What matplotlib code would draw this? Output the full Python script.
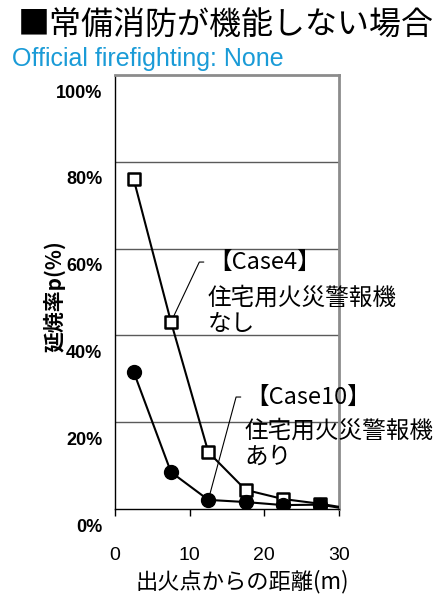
import matplotlib
matplotlib.use("Agg")
import matplotlib.pyplot as plt
from matplotlib.transforms import ScaledTranslation
from matplotlib.markers import MarkerStyle

JP = ['Noto Sans CJK JP', 'DejaVu Sans']
plt.rcParams['font.family'] = JP

# ---- data ----
distance = [2.5, 7.5, 12.5, 17.5, 22.5, 27.5, 30.0]
case4_none = [76.0, 43.1, 13.1, 4.4, 2.3, 1.2, 0.5]
case10_with = [31.6, 8.5, 2.1, 1.6, 0.9, 1.0, 0.3]
x_ticks = [0, 10, 20, 30]
y_ticks = [0, 20, 40, 60, 80, 100]
y_tick_labels = ['0%', '20%', '40%', '60%', '80%', '100%']

title = '■常備消防が機能しない場合'
subtitle = 'Official firefighting: None'
xlabel = '出火点からの距離(m)'
ylabel = '延焼率p(%)'
case4_head = '【Case4】'
case4_body = '住宅用火災警報機\nなし'
case10_head = '【Case10】'
case10_body = '住宅用火災警報機\nあり'

W, H = 448, 597
fig = plt.figure(figsize=(W / 100, H / 100), dpi=100)
ax = fig.add_axes([115 / W, 1 - 509 / H, 224 / W, 434 / H])

ax.set_xlim(0, 30)
ax.set_ylim(0, 100)

for y in y_ticks[1:-1]:
    ax.axhline(y, color='#5a5a5a', lw=1.0, zorder=1)

nmark = 6
sq = MarkerStyle('s', joinstyle='round')
ax.plot(distance, case4_none, color='black', lw=1.5, marker=sq, ms=9,
        mfc='white', mec='black', mew=1.8, markevery=slice(0, nmark), zorder=3)
ax.plot(distance, case10_with, color='black', lw=1.5, marker='o', ms=10,
        mfc='black', mec='black', markevery=slice(0, nmark), zorder=4)

# spines
for s in ['left', 'bottom']:
    ax.spines[s].set_color('black')
    ax.spines[s].set_linewidth(1.0)
for s in ['top', 'right']:
    ax.spines[s].set_color('#8c8c8c')
    ax.spines[s].set_linewidth(2.0)

ax.set_xticks(x_ticks)
ax.set_xticklabels([str(v) for v in x_ticks], fontsize=14, family=['Liberation Sans'])
ax.tick_params(axis='x', direction='out', length=5, width=1, pad=22)
ax.set_yticks(y_ticks)
ax.set_yticklabels(y_tick_labels, fontsize=13, fontweight='bold', family=['Liberation Sans'])
ax.tick_params(axis='y', length=0, pad=9)
off = ScaledTranslation(0, -0.16, fig.dpi_scale_trans)
for lab in ax.get_yticklabels():
    lab.set_transform(lab.get_transform() + off)

ax.set_xlabel(xlabel, fontsize=16)
ax.xaxis.set_label_coords(0.57, -0.14)
ax.set_ylabel(ylabel, fontsize=15, fontweight='bold')
ax.yaxis.set_label_coords(-0.222, 0.49)

# titles
fig.text(18 / W, 1 - 25 / H, title, fontsize=23, ha='left', va='center')
fig.text(12 / W, 1 - 59 / H, subtitle, fontsize=18, color='#1a9bd7',
         ha='left', va='center', family=['Liberation Sans'])

# annotations
ax.annotate(case4_head, xy=(distance[1], case4_none[1]), xytext=(12.45, 56.9),
            fontsize=17, ha='left', va='center',
            arrowprops=dict(arrowstyle='-', color='black', lw=0.8, relpos=(0, 0.5),
                            shrinkA=1, shrinkB=5,
                            connectionstyle='angle,angleA=0,angleB=64.7,rad=0'))
ax.text(12.45, 51.2, case4_body, fontsize=17, ha='left', va='top', linespacing=1.2)

ax.annotate(case10_head, xy=(distance[2], case10_with[2]), xytext=(17.4, 25.8),
            fontsize=17, ha='left', va='center',
            arrowprops=dict(arrowstyle='-', color='black', lw=0.8, relpos=(0, 0.5),
                            shrinkA=1, shrinkB=5,
                            connectionstyle='angle,angleA=0,angleB=74.9,rad=0'))
ax.text(17.4, 20.6, case10_body, fontsize=17, ha='left', va='top', linespacing=1.2)

fig.savefig('out.png', dpi=100)
